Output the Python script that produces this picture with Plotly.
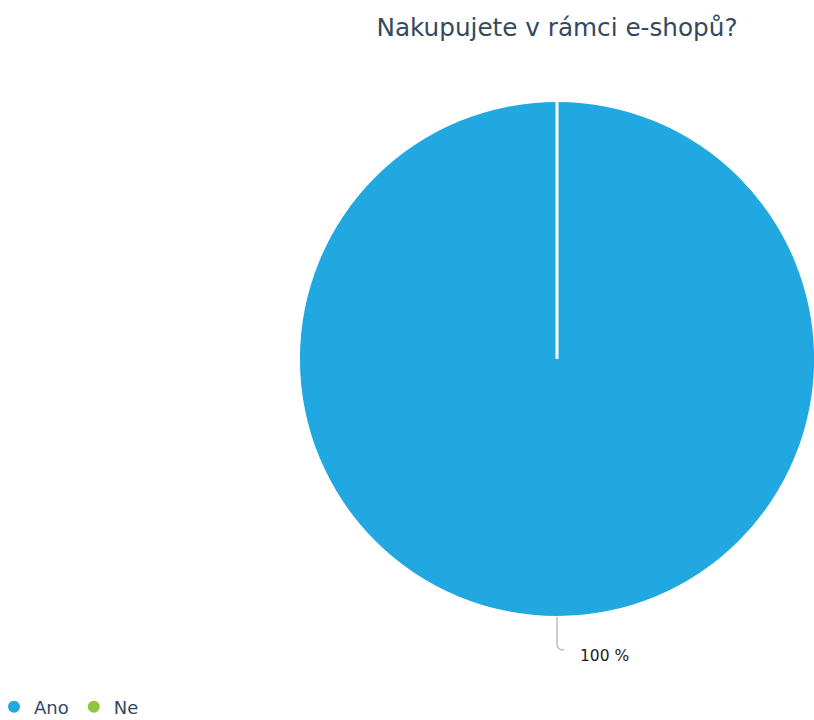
import plotly.graph_objects as go

# Survey answers
labels = ["Ano", "Ne"]
counts = [100, 0]
colors = ["#21a8e1", "#8cc63f"]
title_text = "Nakupujete v rámci e-shopů?"

W, H = 814, 720
# pie placement in pixels
cx, cy, r = 557, 359, 257


def px(x):
    return x / W


def py(y):
    return (H - y) / H


total = sum(counts)
shares = [c / total * 100 for c in counts]

fig = go.Figure()
fig.add_trace(go.Pie(
    labels=labels,
    values=counts,
    marker=dict(colors=colors, line=dict(width=0)),
    textinfo="none",
    hoverinfo="label+percent",
    sort=False,
    direction="clockwise",
    rotation=0,
    showlegend=False,
    domain=dict(x=[px(cx - r), px(cx + r)], y=[py(cy + r), py(cy - r)]),
))

# circular legend markers
for lab, col in zip(labels, colors):
    fig.add_trace(go.Scatter(
        x=[None], y=[None], mode="markers", name=lab,
        marker=dict(symbol="circle", size=12, color=col),
        showlegend=True,
    ))

# slice start separator
fig.add_shape(type="line", xref="paper", yref="paper",
              x0=px(cx), y0=py(cy), x1=px(cx), y1=py(cy - r - 1),
              line=dict(color="white", width=3))

# leader line to the label of the largest slice
path = (f"M {px(cx)},{py(cy + r + 1)} L {px(cx)},{py(cy + r + 28)} "
        f"Q {px(cx)},{py(cy + r + 34)} {px(cx + 7)},{py(cy + r + 34)}")
fig.add_shape(type="path", xref="paper", yref="paper", path=path,
              line=dict(color="#bdbdbd", width=1.5))
fig.add_annotation(
    xref="paper", yref="paper", x=px(cx + 21), y=py(cy + r + 40),
    xanchor="left", yanchor="middle", showarrow=False,
    text=f"{shares[0]:.0f} %",
    font=dict(family="DejaVu Sans", size=15.5, color="#222222"),
)

fig.update_layout(
    width=W, height=H,
    margin=dict(l=0, r=0, t=0, b=0, autoexpand=False),
    paper_bgcolor="white", plot_bgcolor="white",
    font=dict(family="DejaVu Sans", color="#34495e"),
    title=dict(text=title_text, x=px(cx), xanchor="center",
               y=py(27), yanchor="middle",
               font=dict(family="DejaVu Sans", size=24.7, color="#34495e")),
    xaxis=dict(visible=False), yaxis=dict(visible=False),
    legend=dict(orientation="h", x=-6 / W, xanchor="left",
                y=py(707), yanchor="middle",
                font=dict(size=18, color="#34495e"),
                itemwidth=30, tracegroupgap=0),
)

fig.write_html("out.html")
